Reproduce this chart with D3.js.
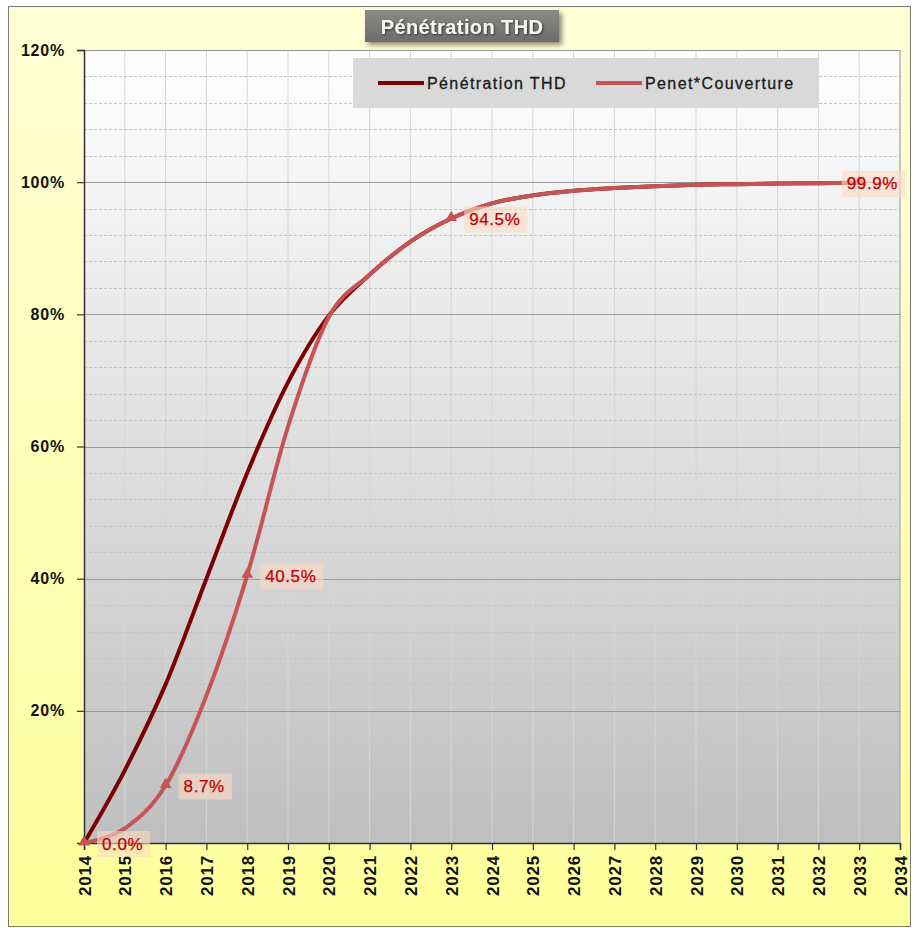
<!DOCTYPE html>
<html>
<head>
<meta charset="utf-8">
<script src="https://cdn.jsdelivr.net/npm/d3@7/dist/d3.min.js"></script>
<style>
  html, body { margin: 0; padding: 0; background: #ffffff; }
  svg { display: block; }
  text { font-family: Arial, "Liberation Sans", sans-serif; }
</style>
</head>
<body>
<script>
// Years shown on the horizontal axis
const tickYears = [2014, 2015, 2016, 2017, 2018, 2019, 2020, 2021, 2022, 2023, 2024,
                   2025, 2026, 2027, 2028, 2029, 2030, 2031, 2032, 2033, 2034];
// Percent ticks on the vertical axis
const percentTicks = [20, 40, 60, 80, 100, 120];
const minorStep = 4;

// Series data (percent), one value per year
const dataYears = [2014, 2015, 2016, 2017, 2018, 2019, 2020, 2021, 2022, 2023,
                   2024, 2025, 2026, 2027, 2028, 2029, 2030, 2031, 2032, 2033];
const penetrationTHD = [0, 11, 24, 40, 56, 69.7, 79.8, 86, 91, 94.5,
                        96.8, 98.0, 98.7, 99.1, 99.4, 99.6, 99.7, 99.8, 99.85, 99.9];
const penetCouverture = [0, 2.2, 8.7, 22.3, 40.5, 63, 79.6, 86, 91, 94.5,
                         96.8, 98.0, 98.7, 99.1, 99.4, 99.6, 99.7, 99.8, 99.85, 99.9];
// Points of the second series that carry a marker and a value label
const labelledIndex = [0, 2, 4, 9, 19];

const seriesNames = ["Pénétration THD", "Penet*Couverture"];
const seriesColors = ["#7d0000", "#c65454"];

const W = 917, H = 928;
const plot = { left: 84, right: 900, top: 50, bottom: 843 };

const svg = d3.select("body").append("svg").attr("width", W).attr("height", H);
const defs = svg.append("defs");

const bgGrad = defs.append("linearGradient").attr("id", "bgGrad")
  .attr("x1", 0).attr("y1", 0).attr("x2", 0).attr("y2", 1);
bgGrad.append("stop").attr("offset", "0%").attr("stop-color", "#fffed6");
bgGrad.append("stop").attr("offset", "100%").attr("stop-color", "#ffff9c");

const plotGrad = defs.append("linearGradient").attr("id", "plotGrad")
  .attr("x1", 0).attr("y1", 0).attr("x2", 0).attr("y2", 1);
plotGrad.append("stop").attr("offset", "0%").attr("stop-color", "#ffffff");
plotGrad.append("stop").attr("offset", "100%").attr("stop-color", "#bfbfbf");

const titleGrad = defs.append("linearGradient").attr("id", "titleGrad")
  .attr("x1", 0).attr("y1", 0).attr("x2", 0).attr("y2", 1);
titleGrad.append("stop").attr("offset", "0%").attr("stop-color", "#8a8a86");
titleGrad.append("stop").attr("offset", "100%").attr("stop-color", "#6c6c68");

const shadow = defs.append("filter").attr("id", "boxShadow")
  .attr("x", "-20%").attr("y", "-40%").attr("width", "150%").attr("height", "200%");
shadow.append("feDropShadow").attr("dx", 3).attr("dy", 3).attr("stdDeviation", 2.5)
  .attr("flood-color", "#000").attr("flood-opacity", 0.45);

const textShadow = defs.append("filter").attr("id", "textShadow")
  .attr("x", "-10%").attr("y", "-30%").attr("width", "130%").attr("height", "180%");
textShadow.append("feDropShadow").attr("dx", 1).attr("dy", 1).attr("stdDeviation", 0.8)
  .attr("flood-color", "#222").attr("flood-opacity", 0.8);

// Chart background and frame
svg.append("rect").attr("x", 8.5).attr("y", 6.5).attr("width", 902).attr("height", 920)
  .attr("fill", "url(#bgGrad)").attr("stroke", "#7a7a70").attr("stroke-width", 1);

// Plot background
svg.append("rect").attr("x", plot.left).attr("y", plot.top)
  .attr("width", plot.right - plot.left).attr("height", plot.bottom - plot.top)
  .attr("fill", "url(#plotGrad)");

const x = d3.scaleLinear().domain([2014, 2034]).range([plot.left, plot.right]);
const y = d3.scaleLinear().domain([0, 120]).range([plot.bottom, plot.top]);

// Vertical year gridlines
svg.append("g").selectAll("line").data(tickYears.slice(1)).join("line")
  .attr("x1", d => x(d)).attr("x2", d => x(d))
  .attr("y1", plot.top).attr("y2", plot.bottom)
  .attr("stroke", "#d6d6d6").attr("stroke-width", 1);

// Minor horizontal gridlines (dashed)
const minorVals = d3.range(minorStep, 120, minorStep).filter(v => v % 20 !== 0);
svg.append("g").selectAll("line").data(minorVals).join("line")
  .attr("x1", plot.left).attr("x2", plot.right)
  .attr("y1", d => Math.round(y(d)) + 0.5).attr("y2", d => Math.round(y(d)) + 0.5)
  .attr("stroke", "#c4c4c4").attr("stroke-width", 1).attr("stroke-dasharray", "3,2");

// Major horizontal gridlines
svg.append("g").selectAll("line").data(percentTicks).join("line")
  .attr("x1", plot.left).attr("x2", plot.right)
  .attr("y1", d => Math.round(y(d)) + 0.5).attr("y2", d => Math.round(y(d)) + 0.5)
  .attr("stroke", "#9a9a9a").attr("stroke-width", 1.2);

// Right plot edge
svg.append("line").attr("x1", plot.right).attr("x2", plot.right)
  .attr("y1", plot.top).attr("y2", plot.bottom)
  .attr("stroke", "#a0a0a0").attr("stroke-width", 1);

// Y axis
const yAxis = d3.axisLeft(y).tickValues(percentTicks).tickSize(7).tickPadding(12)
  .tickFormat(d => d + "%");
const gy = svg.append("g").attr("transform", `translate(${plot.left},0)`).call(yAxis);
gy.select(".domain").attr("stroke", "#333").attr("stroke-width", 1.5);
gy.selectAll(".tick line").attr("stroke", "#333").attr("stroke-width", 1.2);
gy.selectAll(".tick text").attr("font-size", 16).attr("font-weight", "bold")
  .attr("fill", "#111").attr("letter-spacing", "0.8px")
  .attr("font-family", "Arial, 'Liberation Sans', sans-serif");

// X axis with vertical year labels
const xAxis = d3.axisBottom(x).tickValues(tickYears).tickSize(7).tickPadding(0)
  .tickFormat(d3.format("d"));
const gx = svg.append("g").attr("transform", `translate(0,${plot.bottom})`).call(xAxis);
gx.select(".domain").attr("stroke", "#333").attr("stroke-width", 1.5);
gx.selectAll(".tick line").attr("stroke", "#333").attr("stroke-width", 1.2);
gx.selectAll(".tick text")
  .attr("font-size", 17).attr("font-weight", "bold").attr("fill", "#111")
  .attr("letter-spacing", "0.8px")
  .attr("font-family", "Arial, 'Liberation Sans', sans-serif")
  .attr("text-anchor", "end")
  .attr("x", 0).attr("y", 0).attr("dy", null)
  .attr("transform", "translate(6,12) rotate(-90)");

// Lines
const line = d3.line()
  .x((d, i) => x(dataYears[i]))
  .y(d => y(d))
  .curve(d3.curveCardinal.tension(0));

const seriesData = [penetrationTHD, penetCouverture];
svg.append("g").selectAll("path").data(seriesData).join("path")
  .attr("d", d => line(d))
  .attr("fill", "none")
  .attr("stroke", (d, i) => seriesColors[i])
  .attr("stroke-width", 4)
  .attr("stroke-linejoin", "round")
  .attr("stroke-linecap", "round");

// Triangle markers on the second series
const tri = d3.symbol().type(d3.symbolTriangle).size(60);
svg.append("g").selectAll("path").data(labelledIndex).join("path")
  .attr("d", tri)
  .attr("transform", i => `translate(${x(dataYears[i])},${y(penetCouverture[i]) - 1})`)
  .attr("fill", seriesColors[1]);

// Value labels
const labelG = svg.append("g");
labelledIndex.forEach(i => {
  const px = x(dataYears[i]);
  const py = y(penetCouverture[i]);
  const g = labelG.append("g");
  const t = g.append("text")
    .attr("font-size", 17).attr("fill", "#c00000").attr("letter-spacing", "0.6px")
    .attr("dominant-baseline", "central")
    .attr("stroke", "#c00000").attr("stroke-width", 0.25)
    .text(penetCouverture[i].toFixed(1) + "%");
  const w = t.node().getComputedTextLength() + 2;
  let bx = px + 13;
  if (bx + w + 10 > 905) bx = 905 - w - 10;
  t.attr("x", bx + 5).attr("y", py + 1);
  g.insert("rect", "text")
    .attr("x", bx).attr("y", py - 12)
    .attr("width", w + 10).attr("height", 26)
    .attr("fill", "#fbd9c5").attr("fill-opacity", 0.6);
});

// Legend
const legend = svg.append("g");
legend.append("rect").attr("x", 353).attr("y", 58).attr("width", 466).attr("height", 50)
  .attr("fill", "#d9d9d9");
const legendX = [378, 596];
seriesNames.forEach((name, i) => {
  legend.append("line")
    .attr("x1", legendX[i]).attr("x2", legendX[i] + 46)
    .attr("y1", 83).attr("y2", 83)
    .attr("stroke", seriesColors[i]).attr("stroke-width", 4);
  legend.append("text")
    .attr("x", legendX[i] + 49).attr("y", 83)
    .attr("dominant-baseline", "central")
    .attr("font-size", 16).attr("fill", "#1a1a1a")
    .attr("letter-spacing", "1.4px")
    .attr("stroke", "#1a1a1a").attr("stroke-width", 0.3)
    .text(name);
});

// Title
const title = svg.append("g");
title.append("rect").attr("x", 365).attr("y", 10).attr("width", 194).attr("height", 32)
  .attr("fill", "url(#titleGrad)").attr("filter", "url(#boxShadow)");
title.append("text").attr("x", 462).attr("y", 27)
  .attr("text-anchor", "middle").attr("dominant-baseline", "central")
  .attr("font-size", 20).attr("font-weight", "bold").attr("fill", "#f4f4f4")
  .attr("letter-spacing", "0.4px")
  .attr("filter", "url(#textShadow)")
  .text("Pénétration THD");
</script>
</body>
</html>
